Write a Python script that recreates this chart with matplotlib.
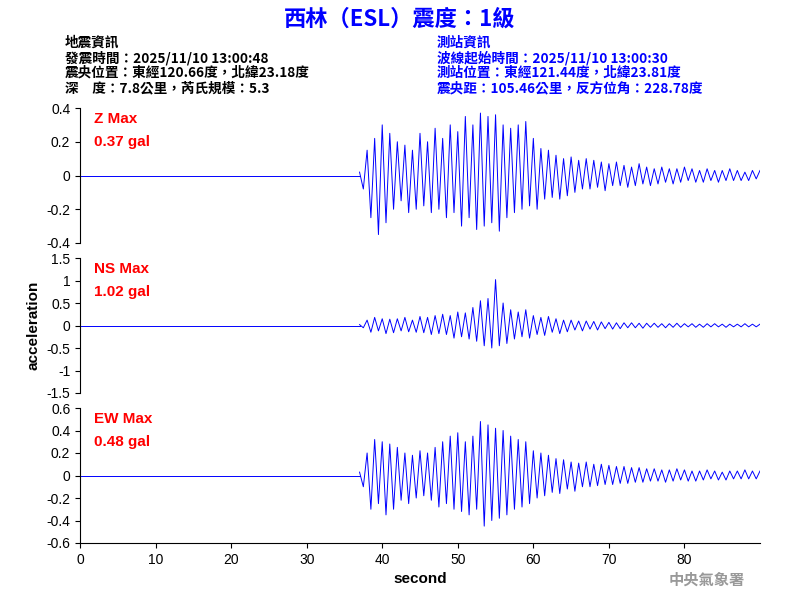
import matplotlib
matplotlib.use("Agg")
import matplotlib.pyplot as plt
import numpy as np

plt.rcParams["font.family"] = ["Liberation Sans", "Noto Sans CJK TC", "DejaVu Sans"]
CJK = ["Noto Sans CJK TC", "DejaVu Sans"]

# peak values read every 0.5 s from 37 s to 90 s
t_event = np.arange(37.0, 90.01, 0.5)
z_vals = [0.02, -0.08, 0.15, -0.25, 0.22, -0.35, 0.30, -0.28, 0.25, -0.2,
          0.2, -0.15, 0.18, -0.22, 0.15, -0.2, 0.25, -0.18, 0.2, -0.22,
          0.28, -0.2, 0.22, -0.25, 0.3, -0.22, 0.26, -0.3, 0.35, -0.25,
          0.3, -0.32, 0.37, -0.3, 0.35, -0.28, 0.36, -0.33, 0.3, -0.25,
          0.28, -0.22, 0.3, -0.2, 0.32, -0.18, 0.22, -0.2, 0.16, -0.14,
          0.15, -0.13, 0.12, -0.14, 0.1, -0.12, 0.11, -0.1, 0.09, -0.08,
          0.1, -0.08, 0.09, -0.07, 0.08, -0.09, 0.07, -0.06, 0.08, -0.06,
          0.06, -0.07, 0.05, -0.06, 0.07, -0.05, 0.05, -0.06, 0.04, -0.05,
          0.05, -0.04, 0.04, -0.05, 0.04, -0.04, 0.05, -0.03, 0.04, -0.04,
          0.03, -0.04, 0.04, -0.03, 0.03, -0.04, 0.03, -0.03, 0.04, -0.03,
          0.03, -0.03, 0.02, -0.03, 0.03, -0.02, 0.03]
ns_vals = [0.02, -0.05, 0.12, -0.15, 0.18, -0.12, 0.15, -0.18, 0.14, -0.16,
           0.15, -0.12, 0.18, -0.14, 0.12, -0.15, 0.2, -0.16, 0.18, -0.2,
           0.22, -0.18, 0.25, -0.2, 0.22, -0.28, 0.3, -0.25, 0.28, -0.3,
           0.4, -0.35, 0.55, -0.45, 0.6, -0.5, 1.02, -0.45, 0.5, -0.4,
           0.35, -0.3, 0.3, -0.25, 0.35, -0.28, 0.22, -0.2, 0.18, -0.22,
           0.2, -0.15, 0.15, -0.18, 0.12, -0.14, 0.12, -0.1, 0.1, -0.12,
           0.1, -0.08, 0.09, -0.1, 0.08, -0.07, 0.07, -0.08, 0.06, -0.07,
           0.06, -0.05, 0.06, -0.05, 0.05, -0.06, 0.05, -0.04, 0.05, -0.04,
           0.04, -0.05, 0.04, -0.04, 0.05, -0.04, 0.04, -0.03, 0.04, -0.04,
           0.03, -0.04, 0.04, -0.03, 0.04, -0.03, 0.03, -0.04, 0.03, -0.03,
           0.03, -0.03, 0.04, -0.03, 0.03, -0.03, 0.03]
ew_vals = [0.03, -0.1, 0.2, -0.3, 0.32, -0.25, 0.3, -0.35, 0.28, -0.3,
           0.25, -0.22, 0.2, -0.25, 0.18, -0.2, 0.22, -0.18, 0.2, -0.22,
           0.25, -0.28, 0.3, -0.25, 0.35, -0.3, 0.38, -0.32, 0.3, -0.35,
           0.35, -0.3, 0.48, -0.45, 0.45, -0.4, 0.42, -0.38, 0.4, -0.35,
           0.35, -0.3, 0.32, -0.28, 0.3, -0.25, 0.22, -0.2, 0.2, -0.18,
           0.18, -0.15, 0.15, -0.16, 0.14, -0.12, 0.12, -0.14, 0.11, -0.1,
           0.12, -0.1, 0.1, -0.09, 0.1, -0.08, 0.09, -0.08, 0.08, -0.07,
           0.08, -0.07, 0.07, -0.06, 0.07, -0.06, 0.06, -0.05, 0.06, -0.05,
           0.05, -0.06, 0.05, -0.05, 0.06, -0.04, 0.05, -0.05, 0.04, -0.05,
           0.04, -0.04, 0.05, -0.03, 0.04, -0.04, 0.03, -0.04, 0.04, -0.03,
           0.04, -0.03, 0.05, -0.03, 0.04, -0.03, 0.04]
t_pre = [0.0, 37.0]
v_pre = [0.0, 0.0]

channels = [
    ("Z Max", "0.37 gal", z_vals, 0.4, 0.2),
    ("NS Max", "1.02 gal", ns_vals, 1.5, 0.5),
    ("EW Max", "0.48 gal", ew_vals, 0.6, 0.2),
]
panel_tops = [108, 258, 408]
panel_h = 135

fig = plt.figure(figsize=(8, 6), dpi=100)
axes = []
for i, (name, peak, vals, lim, step) in enumerate(channels):
    top = panel_tops[i]
    ax = fig.add_axes([0.1, 1 - (top + panel_h) / 600, 0.85, panel_h / 600])
    ax.plot(t_pre, v_pre, color="blue", lw=0.7)
    ax.plot(t_event, vals, color="blue", lw=0.7)
    ax.set_xlim(0, 90)
    ax.set_ylim(-lim, lim)
    ticks = np.round(np.arange(-lim, lim + step / 2, step), 2)
    ax.set_yticks(ticks)
    ax.set_yticklabels([f"{v:g}" for v in ticks])
    ax.spines["top"].set_visible(False)
    ax.spines["right"].set_visible(False)
    ax.tick_params(labelsize=10, direction="out")
    ax.text(0.02, 0.97, name, transform=ax.transAxes, color="red", fontsize=11,
            va="top", fontweight="bold")
    ax.text(0.02, 0.80, peak, transform=ax.transAxes, color="red", fontsize=11,
            va="top", fontweight="bold")
    if i < 2:
        ax.spines["bottom"].set_visible(False)
        ax.set_xticks([])
    else:
        ax.set_xticks(range(0, 90, 10))
        ax.set_xlabel("second", fontsize=11, fontweight="bold")
    axes.append(ax)

axes[1].set_ylabel("acceleration", fontsize=11, fontweight="bold")

fig.text(0.5, 0.968, "西林（ESL）震度：1級", color="blue", fontsize=16,
         fontweight="bold", ha="center", va="center", family=CJK)
left_info = ["地震資訊", "發震時間：2025/11/10 13:00:48",
             "震央位置：東經120.66度，北緯23.18度", "深　度：7.8公里，芮氏規模：5.3"]
right_info = ["測站資訊", "波線起始時間：2025/11/10 13:00:30",
              "測站位置：東經121.44度，北緯23.81度", "震央距：105.46公里，反方位角：228.78度"]
for k, (l, r) in enumerate(zip(left_info, right_info)):
    y = 1 - (43 + 15 * k) / 600
    fig.text(65 / 800, y, l, fontsize=9.8, color="black", va="center",
             family=CJK, fontweight="bold")
    fig.text(437 / 800, y, r, fontsize=9.8, color="blue", va="center",
             family=CJK, fontweight="bold")
fig.text(745 / 800, 1 - 580 / 600, "中央氣象署", fontsize=11, color="#999999",
         ha="right", va="center", fontweight="bold", family=CJK)

fig.savefig("out.png", dpi=100)
